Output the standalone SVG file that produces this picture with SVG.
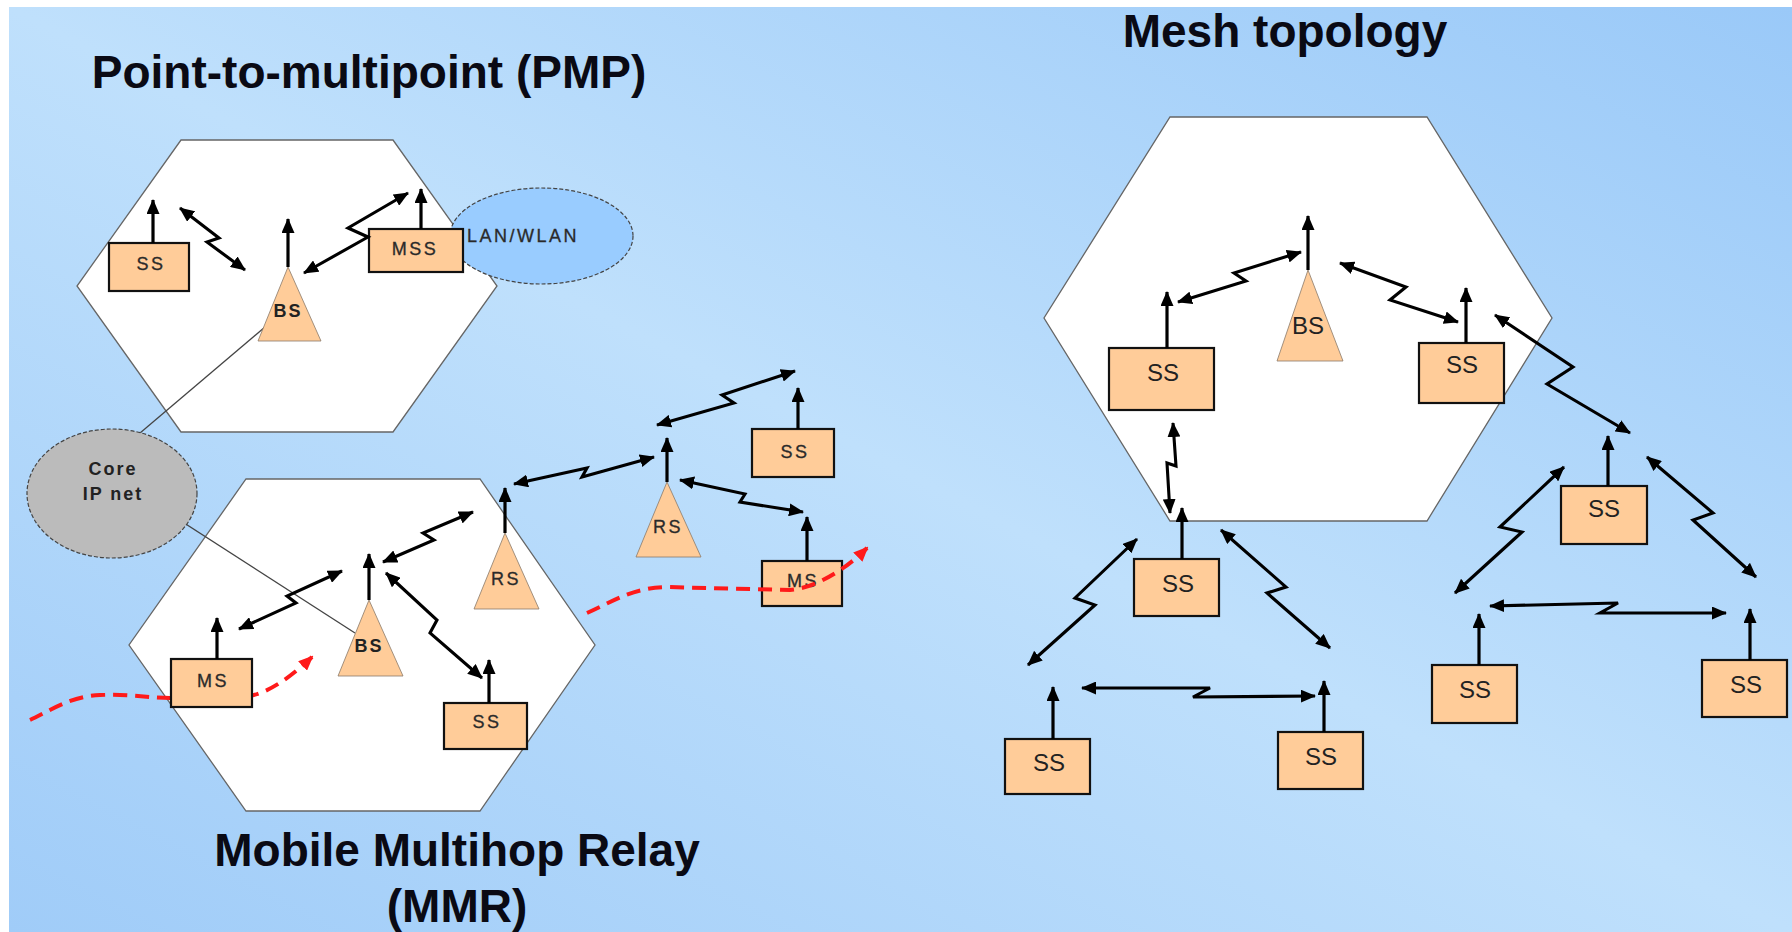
<svg xmlns="http://www.w3.org/2000/svg" width="1792" height="932" viewBox="0 0 1792 932">
<style>
.title{font-family:"Liberation Sans",Arial,sans-serif;font-weight:bold;font-size:46px;fill:#0a0a14}
.cell{fill:#fff;stroke:#666;stroke-width:1.3}
.box{fill:#ffcc99;stroke:#111;stroke-width:2.2}
.tri{fill:#ffcc99;stroke:#8a7a6a;stroke-width:0.8}
.lbl{font-family:"Liberation Sans",Arial,sans-serif;font-size:18px;letter-spacing:2.5px;fill:#2a2a2a;text-anchor:middle;stroke:#2a2a2a;stroke-width:0.3}
.lblb{font-family:"Liberation Sans",Arial,sans-serif;font-size:18px;letter-spacing:2px;font-weight:bold;fill:#222;text-anchor:middle}
.mlbl{font-family:"Liberation Sans",Arial,sans-serif;font-size:24px;fill:#222;text-anchor:middle}
.ant{stroke:#000;stroke-width:3.2;fill:none;marker-end:url(#ah)}
.link{stroke:#000;stroke-width:3.1;fill:none;stroke-linejoin:miter;marker-start:url(#ah);marker-end:url(#ah)}
.wire{stroke:#444;stroke-width:1.3;fill:none}
.cloud{stroke:#444;stroke-width:1.2;stroke-dasharray:4 2}
.move{stroke:#ff1a1a;stroke-width:4;fill:none;stroke-dasharray:14 8;marker-end:url(#rh)}
</style>
<defs>
<linearGradient id="bg" x1="0" y1="1" x2="1" y2="0">
<stop offset="0" stop-color="#a0ccf8"/>
<stop offset="0.5" stop-color="#bfe0fc"/>
<stop offset="1" stop-color="#9ac9f8"/>
</linearGradient>
<marker id="ah" viewBox="0 0 15 13" markerWidth="15" markerHeight="13" refX="14" refY="6.5" orient="auto-start-reverse" markerUnits="userSpaceOnUse">
<path d="M0,0 L15,6.5 L0,13 z" fill="#000"/>
</marker>
<marker id="rh" viewBox="0 0 15 13" markerWidth="15" markerHeight="13" refX="13" refY="6.5" orient="auto" markerUnits="userSpaceOnUse">
<path d="M0,0 L15,6.5 L0,13 z" fill="#ff1a1a"/>
</marker>
</defs>
<rect x="0" y="0" width="1792" height="932" fill="#fff"/>
<rect x="9" y="7" width="1783" height="925" fill="url(#bg)"/>

<g id="titles">
<text class="title" x="369" y="88" text-anchor="middle">Point-to-multipoint (PMP)</text>
<text class="title" x="1285" y="47" text-anchor="middle">Mesh topology</text>
<text class="title" x="457" y="866" text-anchor="middle">Mobile Multihop Relay</text>
<text class="title" x="457" y="922" text-anchor="middle">(MMR)</text>
</g>

<g id="cells">
<polygon id="cell-pmp" class="cell" points="181,140 393,140 497,286 393,432 181,432 77,286"/>
<polygon id="cell-mmr" class="cell" points="246,479 480,479 595,645 480,811 246,811 129,645"/>
<polygon id="cell-mesh" class="cell" points="1170,117 1427,117 1552,318 1427,521 1170,521 1044,318"/>
</g>

<g id="wires">
<path class="wire" d="M120,450 L265,327"/>
<path class="wire" d="M150,501 L355,633"/>
</g>

<g id="lan">
<ellipse class="cloud" cx="541.5" cy="236" rx="91.5" ry="48" fill="#99ccff"/>
<text class="lbl" x="523" y="242" fill="#223">LAN/WLAN</text>
</g>
<g id="core">
<ellipse class="cloud" cx="112" cy="493.5" rx="85" ry="64.5" fill="#bbbbbb"/>
<text class="lblb" x="113" y="475">Core</text>
<text class="lblb" x="113" y="500">IP net</text>
</g>

<g id="move-1">
<path class="move" d="M30,720 C48,712 70,696 100,695 C130,694 150,698 170,698 L250,696 C270,692 292,676 312,657"/>
</g>

<g id="pmp-ss">
<rect class="box" x="109" y="243" width="80" height="48"/>
<text class="lbl" x="151" y="270">SS</text>
<path class="ant" d="M153,243 L153,200"/>
</g>
<g id="pmp-bs">
<polygon class="tri" points="288,267 321,341 258,341"/>
<text class="lblb" x="288" y="317">BS</text>
<path class="ant" d="M288,267 L288,219"/>
</g>
<g id="pmp-mss">
<rect class="box" x="369" y="229" width="94" height="43"/>
<text class="lbl" x="415" y="255">MSS</text>
<path class="ant" d="M421,229 L421,189"/>
</g>

<g id="mmr-ms1">
<rect class="box" x="171" y="659" width="81" height="48"/>
<text class="lbl" x="213" y="687">MS</text>
<path class="ant" d="M217,659 L217,618"/>
</g>
<g id="mmr-bs">
<polygon class="tri" points="369,600 403,676 338,676"/>
<text class="lblb" x="369" y="652">BS</text>
<path class="ant" d="M369,600 L369,554"/>
</g>
<g id="mmr-ss1">
<rect class="box" x="444" y="703" width="83" height="46"/>
<text class="lbl" x="487" y="728">SS</text>
<path class="ant" d="M489,703 L489,660"/>
</g>
<g id="mmr-rs1">
<polygon class="tri" points="505,533 539,609 474,609"/>
<text class="lbl" x="506" y="585">RS</text>
<path class="ant" d="M505,533 L505,488"/>
</g>
<g id="mmr-rs2">
<polygon class="tri" points="667,482 701,557 636,557"/>
<text class="lbl" x="668" y="533">RS</text>
<path class="ant" d="M667,482 L667,438"/>
</g>
<g id="mmr-ss2">
<rect class="box" x="752" y="429" width="82" height="48"/>
<text class="lbl" x="795" y="458">SS</text>
<path class="ant" d="M798,429 L798,388"/>
</g>
<g id="mmr-ms2">
<rect class="box" x="762" y="561" width="80" height="45"/>
<text class="lbl" x="803" y="587">MS</text>
<path class="ant" d="M807,561 L807,517"/>
</g>

<g id="mesh-bs">
<polygon class="tri" points="1308,270 1343,361 1277,361"/>
<text class="mlbl" x="1308" y="334">BS</text>
<path class="ant" d="M1308,270 L1308,216"/>
</g>
<g id="mesh-ss1">
<rect class="box" x="1109" y="348" width="105" height="62"/>
<text class="mlbl" x="1163" y="381">SS</text>
<path class="ant" d="M1167,348 L1167,292"/>
</g>
<g id="mesh-ss2">
<rect class="box" x="1419" y="343" width="85" height="60"/>
<text class="mlbl" x="1462" y="373">SS</text>
<path class="ant" d="M1466,343 L1466,288"/>
</g>
<g id="mesh-ss3">
<rect class="box" x="1561" y="486" width="86" height="58"/>
<text class="mlbl" x="1604" y="517">SS</text>
<path class="ant" d="M1608,486 L1608,436"/>
</g>
<g id="mesh-ss4">
<rect class="box" x="1134" y="559" width="85" height="57"/>
<text class="mlbl" x="1178" y="592">SS</text>
<path class="ant" d="M1182,559 L1182,508"/>
</g>
<g id="mesh-ss5">
<rect class="box" x="1005" y="739" width="85" height="55"/>
<text class="mlbl" x="1049" y="771">SS</text>
<path class="ant" d="M1053,739 L1053,687"/>
</g>
<g id="mesh-ss6">
<rect class="box" x="1278" y="732" width="85" height="57"/>
<text class="mlbl" x="1321" y="765">SS</text>
<path class="ant" d="M1324,732 L1324,681"/>
</g>
<g id="mesh-ss7">
<rect class="box" x="1432" y="665" width="85" height="58"/>
<text class="mlbl" x="1475" y="698">SS</text>
<path class="ant" d="M1479,665 L1479,614"/>
</g>
<g id="mesh-ss8">
<rect class="box" x="1702" y="660" width="85" height="57"/>
<text class="mlbl" x="1746" y="693">SS</text>
<path class="ant" d="M1750,660 L1750,609"/>
</g>

<g id="connectors">
<path class="link" d="M180,208 L219,238 L207,242 L245,270"/>
<path class="link" d="M304,273 L368,237 L348,228 L408,193"/>
<path class="link" d="M239,629 L296,603 L287,596 L342,571"/>
<path class="link" d="M383,562 L434,540 L423,533 L473,512"/>
<path class="link" d="M386,573 L437,620 L430,633 L482,678"/>
<path class="link" d="M514,484 L587,468 L582,477 L654,457"/>
<path class="link" d="M657,425 L734,403 L722,395 L795,371"/>
<path class="link" d="M680,480 L745,494 L740,502 L803,512"/>
<path class="link" d="M1301,252 L1234,273 L1246,281 L1178,302"/>
<path class="link" d="M1340,263 L1406,287 L1390,300 L1458,322"/>
<path class="link" d="M1495,315 L1573,367 L1547,384 L1630,433"/>
<path class="link" d="M1173,423 L1176,466 L1167,463 L1170,513"/>
<path class="link" d="M1564,467 L1500,527 L1522,532 L1455,593"/>
<path class="link" d="M1647,457 L1713,513 L1693,520 L1756,577"/>
<path class="link" d="M1490,606 L1618,603 L1600,613 L1726,613"/>
<path class="link" d="M1137,539 L1075,598 L1095,605 L1028,665"/>
<path class="link" d="M1221,530 L1286,587 L1267,593 L1330,648"/>
<path class="link" d="M1082,688 L1210,688 L1193,697 L1315,696"/>
</g>

<g id="move-2">
<path class="move" d="M587,613 C612,602 632,588 665,587 L790,590 C815,588 845,570 867,548"/>
</g>
</svg>
